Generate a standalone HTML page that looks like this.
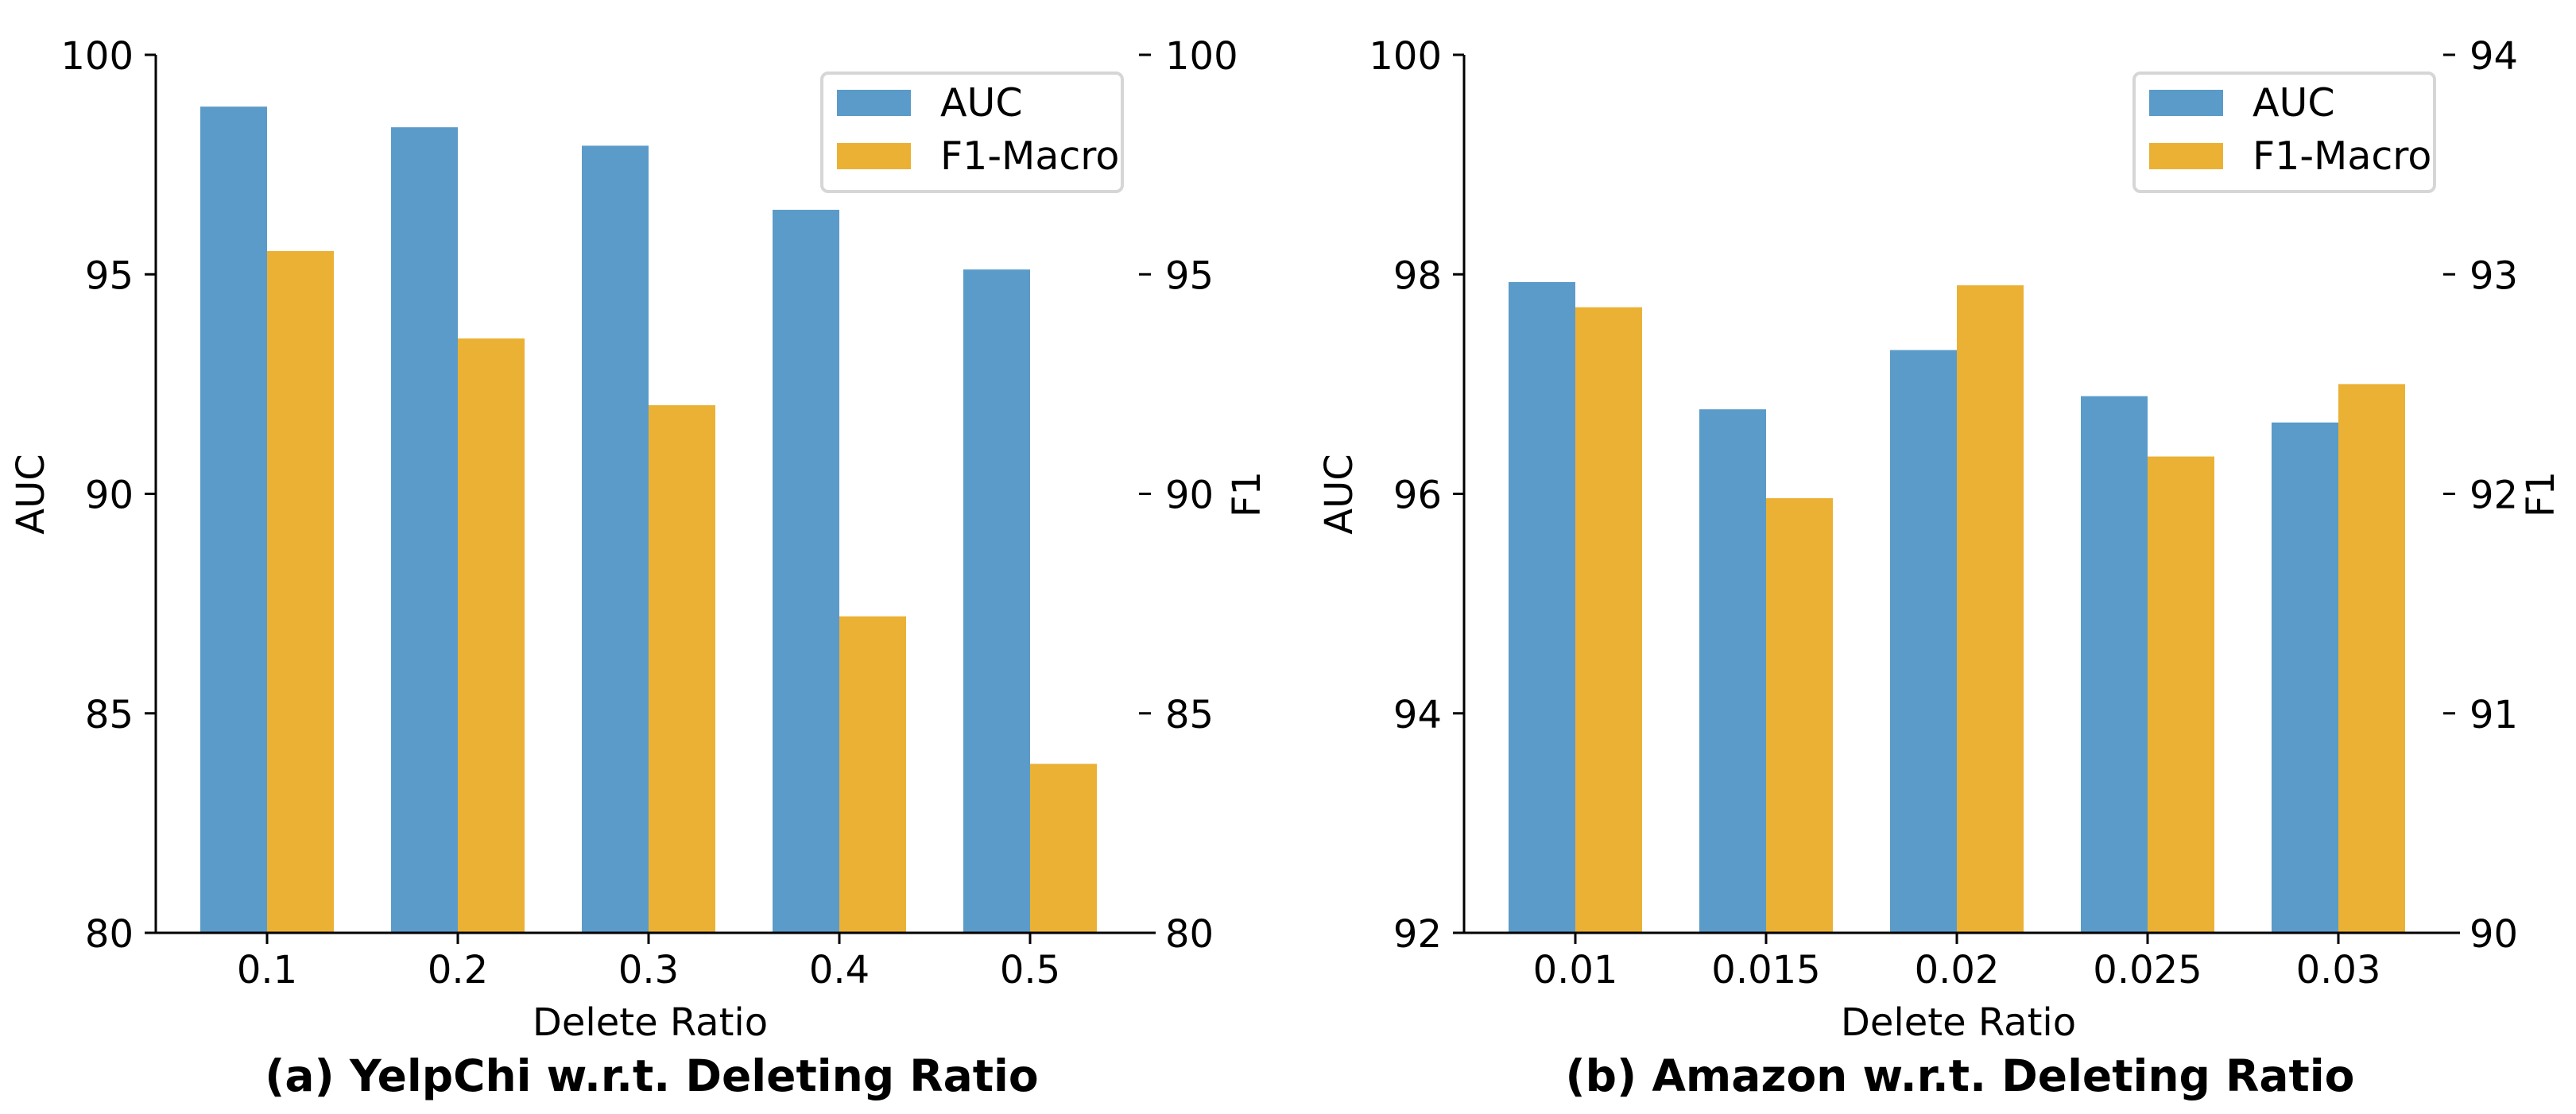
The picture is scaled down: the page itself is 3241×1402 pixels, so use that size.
<!DOCTYPE html>
<html><head><meta charset="utf-8"><style>
html,body{margin:0;padding:0;background:#fff}
svg{display:block}
text{font-family:"DejaVu Sans","Liberation Sans",sans-serif;fill:#000}
</style></head><body>
<svg id="chart" width="3241" height="1402" viewBox="0 0 3241 1402" xmlns="http://www.w3.org/2000/svg"></svg>
<script>
const yelpCategories = ["0.1","0.2","0.3","0.4","0.5"];
const yelpAUC = [98.82, 98.35, 97.93, 96.47, 95.11];
const yelpF1 = [95.53, 93.54, 92.02, 87.21, 83.85];
const yelpLeftTicks = [80, 85, 90, 95, 100];
const yelpRightTicks = [80, 85, 90, 95, 100];

const amazonCategories = ["0.01","0.015","0.02","0.025","0.03"];
const amazonAUC = [97.93, 96.77, 97.31, 96.89, 96.65];
const amazonF1 = [92.85, 91.98, 92.95, 92.17, 92.50];
const amazonLeftTicks = [92, 94, 96, 98, 100];
const amazonRightTicks = [90, 91, 92, 93, 94];

const svg = document.getElementById('chart');
const NS = 'http://www.w3.org/2000/svg';
function mk(tag, attrs, parent){
  const e = document.createElementNS(NS, tag);
  for (const k in attrs) e.setAttribute(k, attrs[k]);
  (parent||svg).appendChild(e);
  return e;
}
const BLUE = '#5b9bc9', ORANGE = '#ebb134';
const Y_TOP = 69, Y_BOT = 1174;

function panel(cfg){
  const g = mk('g', {});
  
  
  const x0 = cfg.x0, x1 = cfg.x1;
  const yL = v => Y_BOT - (v - cfg.lmin) / (cfg.lmax - cfg.lmin) * (Y_BOT - Y_TOP);
  const yR = v => Y_BOT - (v - cfg.rmin) / (cfg.rmax - cfg.rmin) * (Y_BOT - Y_TOP);
  const xC = i => x0 + 140 + 240 * i;
  const bw = 84;
  cfg.cats.forEach((c, i) => {
    const b = mk('rect', {x: xC(i) - bw, y: yL(cfg.auc[i]), width: bw, height: Y_BOT - yL(cfg.auc[i]), fill: BLUE}, g);
    
    
    const o = mk('rect', {x: xC(i), y: yR(cfg.f1[i]), width: bw, height: Y_BOT - yR(cfg.f1[i]), fill: ORANGE}, g);
    
    
    const t = mk('line', {x1: xC(i), x2: xC(i), y1: Y_BOT, y2: Y_BOT + 14, stroke: '#000', 'stroke-width': 3}, g);
    
    
    const tl = mk('text', {x: xC(i), y: 1237, 'font-size': 48, 'text-anchor': 'middle'}, g);
    tl.textContent = c;
    
    
  });
  cfg.lt.forEach(v => {
    const t = mk('line', {x1: x0 - 14, x2: x0, y1: yL(v), y2: yL(v), stroke: '#000', 'stroke-width': 3}, g);
    
    
    const tl = mk('text', {x: x0 - 28, y: yL(v) + 18, 'font-size': 48, 'text-anchor': 'end'}, g);
    tl.textContent = v;
    
    
  });
  cfg.rt.forEach(v => {
    const t = mk('line', {x1: x1 - 21, x2: x1 - 6, y1: yR(v), y2: yR(v), stroke: '#000', 'stroke-width': 3}, g);
    
    
    const tl = mk('text', {x: x1 + 12, y: yR(v) + 18, 'font-size': 48}, g);
    tl.textContent = v;
    
    
  });
  const ya = mk('line', {x1: x0, x2: x0, y1: Y_TOP, y2: Y_BOT + 1.5, stroke: '#000', 'stroke-width': 3}, g);
  
  
  const xa = mk('line', {x1: x0 - 1.5, x2: x1, y1: Y_BOT, y2: Y_BOT, stroke: '#000', 'stroke-width': 3}, g);
  
  
  const yl = mk('text', {x: 0, y: 0, 'font-size': 48, 'text-anchor': 'middle', transform: `translate(${x0 - 141},622) rotate(-90)`}, g);
  yl.textContent = 'AUC';
  
  
  const yr = mk('text', {x: 0, y: 0, 'font-size': 48, 'text-anchor': 'middle', transform: `translate(${x1 + cfg.f1Off},622) rotate(-90)`}, g);
  yr.textContent = 'F1';
  
  
  const xl = mk('text', {x: x0 + 622, y: 1303, 'font-size': 48, 'text-anchor': 'middle'}, g);
  xl.textContent = 'Delete Ratio';
  
  
  const tt = mk('text', {x: x0 + 624, y: 1373, 'font-size': 55, 'font-weight': 'bold', 'text-anchor': 'middle'}, g);
  tt.textContent = cfg.title;
  
  
  const lx = cfg.legendX;
  const lg = mk('g', {}, g);
  
  
  mk('rect', {x: lx, y: 92, width: 378, height: 149, rx: 8, fill: '#fff', stroke: '#d6d6d6', 'stroke-width': 4}, lg);
  const p1 = mk('rect', {x: lx + 19, y: 113, width: 93, height: 33, fill: BLUE}, lg);
  
  
  const p2 = mk('rect', {x: lx + 19, y: 180, width: 93, height: 33, fill: ORANGE}, lg);
  
  
  const t1 = mk('text', {x: lx + 149, y: 146, 'font-size': 49}, lg);
  t1.textContent = 'AUC';
  
  
  const t2 = mk('text', {x: lx + 149, y: 213, 'font-size': 49}, lg);
  t2.textContent = 'F1-Macro';
  
  
}

panel({name: 'yelpchi-panel', x0: 196, x1: 1454, cats: yelpCategories, auc: yelpAUC, f1: yelpF1,
  lmin: 80, lmax: 100, rmin: 80, rmax: 100, lt: yelpLeftTicks, rt: yelpRightTicks, f1Off: 131,
  title: '(a) YelpChi w.r.t. Deleting Ratio', legendX: 1034});
panel({name: 'amazon-panel', x0: 1842, x1: 3095, cats: amazonCategories, auc: amazonAUC, f1: amazonF1,
  lmin: 92, lmax: 100, rmin: 90, rmax: 94, lt: amazonLeftTicks, rt: amazonRightTicks, f1Off: 118,
  title: '(b) Amazon w.r.t. Deleting Ratio', legendX: 2685});
</script>
</body></html>
